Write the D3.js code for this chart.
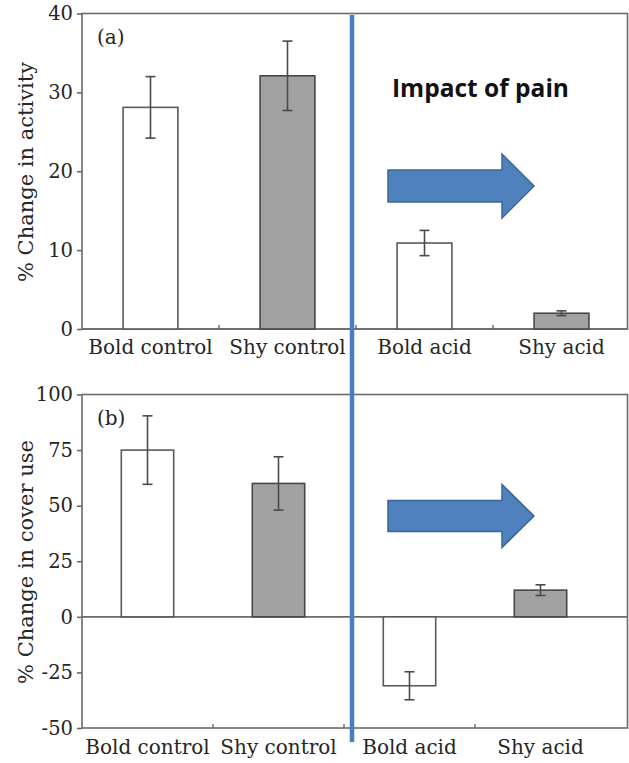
<!DOCTYPE html>
<html>
<head>
<meta charset="utf-8">
<script src="https://cdn.jsdelivr.net/npm/d3@7"></script>
<style>
  html, body { margin: 0; padding: 0; background: #fff; }
  svg { display: block; }
  .serif { font-family: "DejaVu Serif", "Liberation Serif", serif; fill: #262626; }
</style>
</head>
<body>
<svg id="chart" width="629" height="763"></svg>
<script>
// Groups shown along the x axis
const groups = ["Bold control", "Shy control", "Bold acid", "Shy acid"];
const barFills = ["#ffffff", "#a2a2a2", "#ffffff", "#a2a2a2"];

// (a) % change in activity: mean and error (±)
const activityMean = [28.1, 32.1, 10.9, 2.0];
const activityErr  = [3.9, 4.4, 1.6, 0.3];
const activityTicks = [0, 10, 20, 30, 40];

// (b) % change in cover use: mean and error (±)
const coverMean = [75, 60, -31, 12];
const coverErr  = [15.4, 12, 6.3, 2.4];
const coverTicks = [-50, -25, 0, 25, 50, 75, 100];

const svg = d3.select("#chart");
const axisColor = "#6a6a6a";

function drawPanel(cfg) {
  const g = svg.append("g");
  const y = d3.scaleLinear().domain(cfg.domain).range([cfg.bottom, cfg.top]);
  const x = d3.scaleBand().domain(groups).range([cfg.left, cfg.bandRight])
    .paddingInner(cfg.pad).paddingOuter(cfg.pad / 2);

  // frame
  g.append("rect")
    .attr("x", cfg.left).attr("y", cfg.top)
    .attr("width", cfg.frameRight - cfg.left).attr("height", cfg.bottom - cfg.top)
    .attr("fill", "none").attr("stroke", axisColor).attr("stroke-width", 1.6);

  // zero line
  g.append("line")
    .attr("x1", cfg.left).attr("x2", cfg.frameRight)
    .attr("y1", y(0)).attr("y2", y(0))
    .attr("stroke", axisColor).attr("stroke-width", 1.6);

  // y axis (plain hyphen for negatives)
  const yAxis = d3.axisLeft(y).tickValues(cfg.ticks).tickSize(5).tickPadding(4)
    .tickFormat(d => String(d));
  const ya = g.append("g").attr("transform", `translate(${cfg.left},0)`).call(yAxis);
  ya.select(".domain").remove();
  ya.selectAll("line").attr("stroke", axisColor).attr("stroke-width", 1.6);
  ya.selectAll("text").attr("class", "serif").style("font-size", "19.5px")
    .attr("fill", "#262626");

  // x tick marks at group boundaries (inner only)
  const bounds = groups.slice(1).map(d => x(d) - x.step() * x.paddingInner() / 2);
  g.selectAll(".xtick").data(bounds).join("line")
    .attr("x1", d => d).attr("x2", d => d)
    .attr("y1", cfg.bottom).attr("y2", cfg.bottom - 4)
    .attr("stroke", axisColor).attr("stroke-width", 1.4);

  // x labels
  g.selectAll(".xlab").data(groups).join("text")
    .attr("class", "serif")
    .attr("x", d => x(d) + x.bandwidth() / 2)
    .attr("y", cfg.labelY)
    .attr("text-anchor", "middle")
    .style("font-size", "20px")
    .text(d => d);

  // bars
  const data = groups.map((d, i) => ({ name: d, v: cfg.mean[i], e: cfg.err[i], fill: barFills[i] }));
  g.selectAll(".bar").data(data).join("rect")
    .attr("x", d => x(d.name))
    .attr("width", x.bandwidth())
    .attr("y", d => y(Math.max(0, d.v)))
    .attr("height", d => Math.abs(y(d.v) - y(0)))
    .attr("fill", d => d.fill)
    .attr("stroke", d => d.fill === "#ffffff" ? "#5a5a5a" : "#474747")
    .attr("stroke-width", 1.6);

  // error bars
  const eb = g.selectAll(".err").data(data).join("g");
  const cx = d => x(d.name) + x.bandwidth() / 2;
  eb.append("line")
    .attr("x1", cx).attr("x2", cx)
    .attr("y1", d => y(d.v + d.e)).attr("y2", d => y(d.v - d.e));
  eb.append("line")
    .attr("x1", d => cx(d) - 5).attr("x2", d => cx(d) + 5)
    .attr("y1", d => y(d.v + d.e)).attr("y2", d => y(d.v + d.e));
  eb.append("line")
    .attr("x1", d => cx(d) - 5).attr("x2", d => cx(d) + 5)
    .attr("y1", d => y(d.v - d.e)).attr("y2", d => y(d.v - d.e));
  eb.selectAll("line").attr("stroke", "#4a4a4a").attr("stroke-width", 1.6);

  // panel letter
  g.append("text").attr("class", "serif")
    .attr("x", cfg.left + 15).attr("y", cfg.top + 30)
    .style("font-size", "20px").text(cfg.letter);

  // y title
  g.append("text").attr("class", "serif")
    .attr("transform", `translate(33,${cfg.titleY}) rotate(-90)`)
    .attr("text-anchor", "middle")
    .style("font-size", "21px")
    .text(cfg.title);

  return { x, y };
}

drawPanel({
  domain: [0, 40], ticks: activityTicks, top: 13.5, bottom: 329,
  left: 82, bandRight: 630, frameRight: 627.5, pad: 0.6,
  mean: activityMean, err: activityErr, labelY: 354,
  letter: "(a)", title: "% Change in activity", titleY: 172
});

drawPanel({
  domain: [-50, 100], ticks: coverTicks, top: 394.5, bottom: 728,
  left: 82, bandRight: 606, frameRight: 627.5, pad: 0.6,
  mean: coverMean, err: coverErr, labelY: 754,
  letter: "(b)", title: "% Change in cover use", titleY: 562
});

// divider between control and acid treatments
svg.append("line")
  .attr("x1", 352).attr("x2", 352).attr("y1", 15).attr("y2", 742)
  .attr("stroke", "#4a7cc3").attr("stroke-width", 4.5);

// annotation
svg.append("text")
  .attr("x", 392).attr("y", 97)
  .style("font-family", "'Open Sans', 'Noto Sans', sans-serif")
  .style("font-weight", "bold").style("font-size", "24.5px")
  .attr("fill", "#111").text("Impact of pain");

// block arrows
function arrow(x0, cy, shaftLen, shaftH, headH, headLen) {
  const p = d3.path();
  p.moveTo(x0, cy - shaftH / 2);
  p.lineTo(x0 + shaftLen, cy - shaftH / 2);
  p.lineTo(x0 + shaftLen, cy - headH / 2);
  p.lineTo(x0 + shaftLen + headLen, cy);
  p.lineTo(x0 + shaftLen, cy + headH / 2);
  p.lineTo(x0 + shaftLen, cy + shaftH / 2);
  p.lineTo(x0, cy + shaftH / 2);
  p.closePath();
  svg.append("path").attr("d", p.toString())
    .attr("fill", "#4f81bd").attr("stroke", "#3a659a").attr("stroke-width", 1.5);
}
arrow(388, 186, 114, 32, 64, 32);
arrow(388, 516, 114, 31, 63, 32);
</script>
</body>
</html>
